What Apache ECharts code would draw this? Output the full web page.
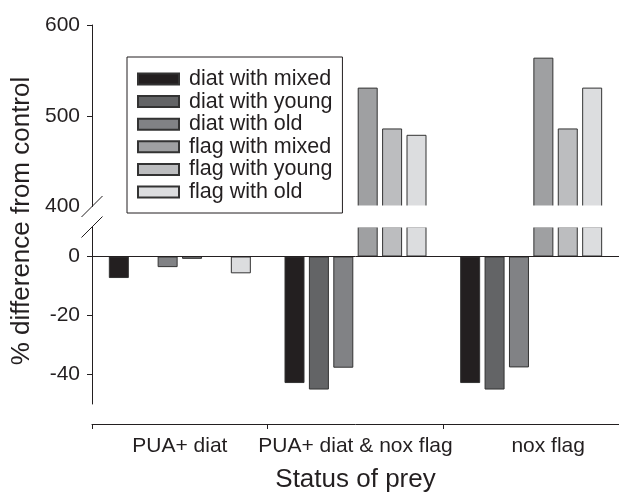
<!DOCTYPE html>
<html>
<head>
<meta charset="utf-8">
<script src="https://cdn.jsdelivr.net/npm/echarts@6/dist/echarts.min.js"></script>
<style>
html,body{margin:0;padding:0;background:#fff;}
#chart{width:619px;height:494px;}
</style>
</head>
<body>
<div id="chart"></div>
<script>
// ---- data ----
const categories = ['PUA+ diat', 'PUA+ diat & nox flag', 'nox flag'];
const seriesNames = ['diat with mixed', 'diat with young', 'diat with old', 'flag with mixed', 'flag with young', 'flag with old'];
const diatMixed = [-7.3, -42.9, -42.9];
const diatYoung = [null, -45.1, -45.1];
const diatOld = [-3.6, -37.7, -37.6];
const flagMixed = [-0.8, 531, 564];
const flagYoung = [null, 486, 486];
const flagOld = [-5.7, 479, 531];
const upperTicks = [400, 500, 600];
const lowerTicks = [0, -20, -40];
const upperRange = [400, 600];
const lowerRange = [-50, 10];

const allValues = [diatMixed, diatYoung, diatOld, flagMixed, flagYoung, flagOld];
const colors = ['#231f20', '#636466', '#818285', '#9fa0a2', '#bcbdbf', '#dcdddf'];
const ink = '#231f20';
const FONT = '"Liberation Sans", Arial, Helvetica, sans-serif';

const chart = echarts.init(document.getElementById('chart'), null, {renderer: 'canvas'});

const series = [];
allValues.forEach((vals, i) => {
  series.push({
    type: 'bar', name: seriesNames[i], xAxisIndex: 0, yAxisIndex: 0,
    data: vals.map(v => (v != null && v > upperRange[0]) ? v : null),
    barWidth: 20, barGap: '22%', clip: true, silent: true,
    itemStyle: {color: colors[i], borderColor: '#333', borderWidth: 1}
  });
});
allValues.forEach((vals, i) => {
  const s = {
    type: 'bar', name: seriesNames[i], xAxisIndex: 1, yAxisIndex: 1,
    data: vals.slice(),
    barWidth: 20, barGap: '22%', clip: true, silent: true,
    itemStyle: {color: colors[i], borderColor: '#333', borderWidth: 1}
  };
  if (i === 0) {
    s.markLine = {
      silent: true, symbol: ['none', 'none'],
      label: {show: false},
      lineStyle: {color: ink, width: 1, type: 'solid'},
      data: [{yAxis: 0}]
    };
  }
  series.push(s);
});

const option = {
  animation: false,
  backgroundColor: '#fff',
  textStyle: {fontFamily: FONT, color: ink},
  legend: {
    data: seriesNames,
    orient: 'vertical',
    left: 127, top: 57,
    padding: [11, 10, 10, 10],
    itemWidth: 41, itemHeight: 11, itemGap: 0.6,
    borderColor: ink, borderWidth: 1,
    backgroundColor: '#fff',
    icon: 'rect',
    selectedMode: false,
    z: 10,
    textStyle: {fontFamily: FONT, fontSize: 21.5, color: ink, lineHeight: 21, padding: [0, 0, 0, 5]}
  },
  grid: [
    {left: 92, right: 0, top: 25, height: 181.5},
    {left: 92, right: 0, top: 227, height: 180}
  ],
  xAxis: [
    {type: 'category', gridIndex: 0, data: categories, show: false},
    {
      type: 'category', gridIndex: 1, data: categories,
      position: 'bottom', offset: 20,
      axisLine: {onZero: false, lineStyle: {color: ink, width: 1}},
      axisTick: {show: true, length: 5, interval: 0, lineStyle: {color: ink, width: 1}},
      axisLabel: {
        interval: 0, hideOverlap: false,
        color: ink, fontSize: 21, fontFamily: FONT, margin: 12,
        formatter: (v, i) => i === 2 ? '{s|' + v + '}' : v,
        rich: {s: {fontSize: 21, fontFamily: FONT, color: ink, padding: [0, 0, 0, 34]}}
      },
      name: 'Status of prey', nameLocation: 'middle', nameGap: 43,
      nameTextStyle: {fontSize: 26, fontFamily: FONT, color: ink}
    }
  ],
  yAxis: [
    {
      type: 'value', gridIndex: 0, min: upperRange[0], max: upperRange[1],
      splitLine: {show: false},
      axisLine: {show: true, lineStyle: {color: ink, width: 1}},
      axisTick: {show: true, length: 5, customValues: [500, 600], lineStyle: {color: ink}},
      axisLabel: {color: ink, fontSize: 21, fontFamily: FONT, margin: 12, customValues: upperTicks}
    },
    {
      type: 'value', gridIndex: 1, min: lowerRange[0], max: lowerRange[1],
      splitLine: {show: false},
      axisLine: {show: true, lineStyle: {color: ink, width: 1}},
      axisTick: {show: true, length: 5, customValues: lowerTicks, lineStyle: {color: ink}},
      axisLabel: {color: ink, fontSize: 21, fontFamily: FONT, margin: 12, customValues: lowerTicks}
    }
  ],
  series: series
};
chart.setOption(option);

// break marks, gap mask and rotated y title
const axisX = 92;
const yTop = chart.convertToPixel({yAxisIndex: 0}, upperRange[0]);
const yBot = chart.convertToPixel({yAxisIndex: 1}, lowerRange[1]);
const L = 10.5;
chart.setOption({
  graphic: [
    {type: 'rect', shape: {x: axisX + 1, y: yTop - 1, width: 619 - axisX, height: yBot - yTop + 1.5},
     style: {fill: '#fff'}, z: 3, silent: true},
    {type: 'line', shape: {x1: axisX - L, y1: yTop + L, x2: axisX + L, y2: yTop - L}, style: {stroke: ink, lineWidth: 1}, z: 100},
    {type: 'line', shape: {x1: axisX - L, y1: yBot + L, x2: axisX + L, y2: yBot - L}, style: {stroke: ink, lineWidth: 1}, z: 100},
    {type: 'text', x: 22, y: 221, rotation: Math.PI / 2,
     style: {text: '% difference from control', font: '26px ' + FONT, fill: ink, align: 'center', verticalAlign: 'middle'}, z: 100}
  ]
});
</script>
</body>
</html>
